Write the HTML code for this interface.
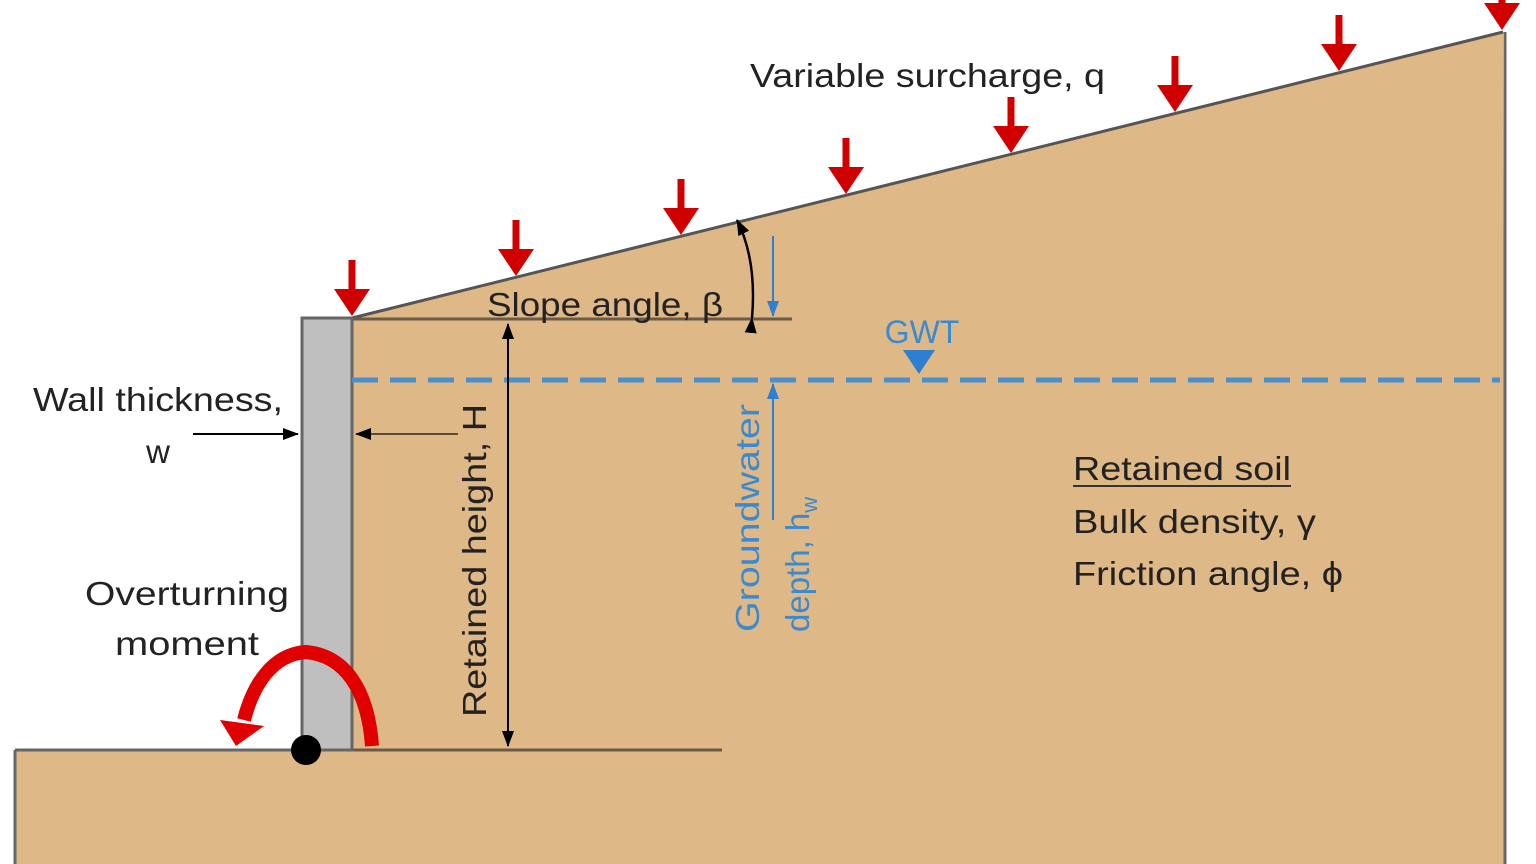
<!DOCTYPE html>
<html><head><meta charset="utf-8"><style>html,body{margin:0;padding:0;background:#fff}svg{display:block}</style></head>
<body>
<svg width="1536" height="864" viewBox="0 0 1536 864" xmlns="http://www.w3.org/2000/svg" font-family="Liberation Sans, sans-serif">
<defs>
<marker id="ab2" markerWidth="16" markerHeight="12" refX="15" refY="6" orient="auto" markerUnits="userSpaceOnUse"><path d="M0,0 L16,6 L0,12 Z" fill="#000"/></marker>
<marker id="bl" markerWidth="16" markerHeight="12" refX="15" refY="6" orient="auto" markerUnits="userSpaceOnUse"><path d="M0,0 L16,6 L0,12 Z" fill="#2E7FD0"/></marker>
</defs>
<polygon points="352,318 1503,32 1505,864 15,864 15,750 352,750" fill="#DFB887"/>
<line x1="352" y1="318" x2="1503" y2="32" stroke="#555" stroke-width="3"/>
<line x1="1505" y1="32" x2="1505" y2="864" stroke="#666" stroke-width="3"/>
<line x1="15" y1="750" x2="15" y2="864" stroke="#666" stroke-width="3"/>
<line x1="15" y1="750" x2="302" y2="750" stroke="#666" stroke-width="3"/>
<line x1="352" y1="750" x2="722" y2="750" stroke="#6b5a45" stroke-width="3"/>
<line x1="352" y1="319" x2="792" y2="319" stroke="#6b5a45" stroke-width="3"/>
<rect x="302" y="318" width="50" height="432" fill="#BFBFBF" stroke="#666" stroke-width="3"/>
<line x1="352" y1="380" x2="1500" y2="380" stroke="#4A8FCB" stroke-width="5" stroke-dasharray="26,12"/>
<polygon points="903,350 935,350 919,374" fill="#2E7FD0"/>
<text x="922" y="343" font-size="32" fill="#3A8AD0" text-anchor="middle">GWT</text>
<defs><g id="ra"><rect x="-3.5" y="-56" width="7" height="34"/><polygon points="-18,-27 18,-27 0,0"/></g></defs>
<g fill="#D00000">
<use href="#ra" x="352" y="316"/>
<use href="#ra" x="516" y="276"/>
<use href="#ra" x="681" y="235"/>
<use href="#ra" x="846" y="194"/>
<use href="#ra" x="1011" y="153"/>
<use href="#ra" x="1175" y="112"/>
<use href="#ra" x="1339" y="71"/>
<use href="#ra" x="1502" y="30"/>
</g>
<path d="M752,318 Q757,260 737,220" fill="none" stroke="#000" stroke-width="2.5" marker-start="url(#ab2)" marker-end="url(#ab2)"/>
<line x1="773" y1="236" x2="773" y2="316" stroke="#2E7FD0" stroke-width="2" marker-end="url(#bl)"/>
<line x1="773" y1="520" x2="773" y2="384" stroke="#2E7FD0" stroke-width="2" marker-end="url(#bl)"/>
<text x="487" y="316" font-size="33" fill="#222" textLength="236" lengthAdjust="spacingAndGlyphs">Slope angle, β</text>
<text x="750" y="87" font-size="33" fill="#222" textLength="355" lengthAdjust="spacingAndGlyphs">Variable surcharge, q</text>
<line x1="508" y1="745" x2="508" y2="324" stroke="#000" stroke-width="2" marker-end="url(#ab2)"/>
<line x1="508" y1="330" x2="508" y2="746" stroke="#000" stroke-width="2" marker-end="url(#ab2)"/>
<text transform="translate(486,717) rotate(-90)" font-size="33" fill="#222" textLength="313" lengthAdjust="spacingAndGlyphs">Retained height, H</text>
<line x1="193" y1="434" x2="298" y2="434" stroke="#000" stroke-width="2" marker-end="url(#ab2)"/>
<line x1="458" y1="434" x2="356" y2="434" stroke="#5a4a3a" stroke-width="2" marker-end="url(#ab2)"/>
<text x="33" y="411" font-size="33" fill="#222" textLength="250" lengthAdjust="spacingAndGlyphs">Wall thickness,</text>
<text x="158" y="463" font-size="33" fill="#222" text-anchor="middle">w</text>
<text transform="translate(759,632) rotate(-90)" font-size="33" fill="#3A8AD0" textLength="228" lengthAdjust="spacingAndGlyphs">Groundwater</text>
<text transform="translate(809,632) rotate(-90)" font-size="33" fill="#3A8AD0">depth, h<tspan font-size="22" dy="8">w</tspan></text>
<text x="1073" y="480" font-size="33" fill="#222" textLength="218" lengthAdjust="spacingAndGlyphs">Retained soil</text>
<line x1="1073" y1="486" x2="1291" y2="486" stroke="#333" stroke-width="2"/>
<text x="1073" y="533" font-size="33" fill="#222" textLength="243" lengthAdjust="spacingAndGlyphs">Bulk density, γ</text>
<text x="1073" y="585" font-size="33" fill="#222" textLength="270" lengthAdjust="spacingAndGlyphs">Friction angle, ϕ</text>
<text x="85" y="605" font-size="33" fill="#222" textLength="204" lengthAdjust="spacingAndGlyphs">Overturning</text>
<text x="115" y="655" font-size="33" fill="#222" textLength="144" lengthAdjust="spacingAndGlyphs">moment</text>
<path d="M372,746 C368,690 345,655 305,652 C272,655 253,685 244,720" fill="none" stroke="#E00000" stroke-width="14"/>
<polygon points="220,720 264,726 236,746" fill="#E00000"/>
<circle cx="306" cy="750" r="15" fill="#000"/>
</svg>
</body></html>
